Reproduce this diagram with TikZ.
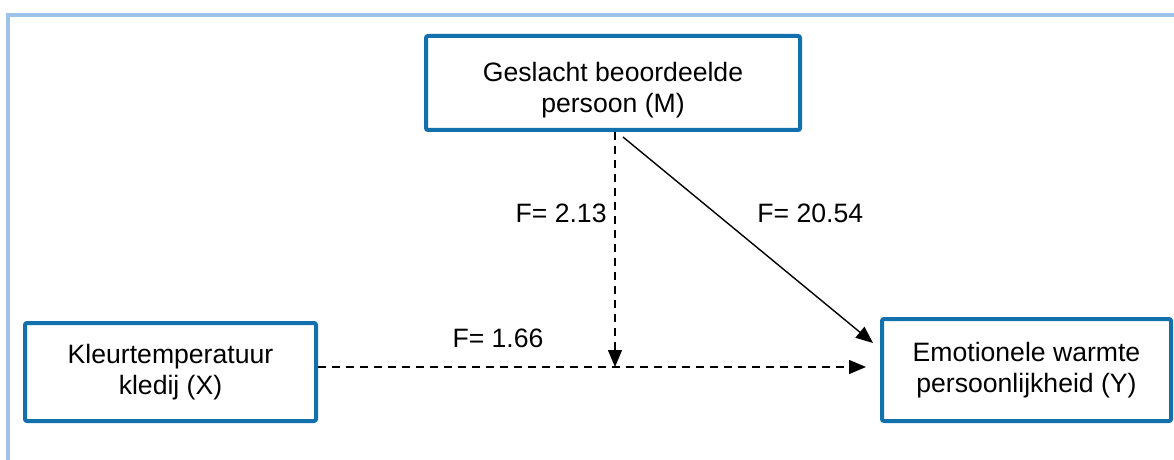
\documentclass[tikz,border=0pt]{standalone}
\usepackage{fontspec}
\setmainfont{Liberation Sans}
\usepackage{tikz}
\usetikzlibrary{arrows.meta, positioning, calc}
\definecolor{myblue}{RGB}{18,112,172}
\definecolor{myframe}{RGB}{157,195,235}
\definecolor{mydark}{RGB}{0,0,0}
\tikzset{
  varbox/.style={rectangle, draw=myblue, fill=white, line width=2pt,
    align=center, rounded corners=1pt, inner sep=0pt},
  dasharrow/.style={-{Triangle[length=8.5pt,width=7pt]}, dashed,
    dash pattern=on 4pt off 3pt, line width=0.7pt, color=mydark},
  arrow/.style={-{Triangle[length=8.5pt,width=7pt]}, line width=0.7pt, color=mydark},
  flabel/.style={inner sep=0pt}
}

\begin{document}
\begin{tikzpicture}[x=0.5pt, y=-0.5pt, every node/.style={font=\fontsize{13.3}{15.5}\selectfont}]
  \useasboundingbox (0,0) rectangle (1174,460);
  % Frame
  \draw[myframe, line width=2pt] (8,470) -- (8,15) -- (1185,15);

  % Variables
  \node[varbox, minimum width=187pt, minimum height=47pt, text height=32pt] (M) at (613,83)
    {Geslacht beoordeelde\\persoon (M)};
  \node[varbox, minimum width=145.5pt, minimum height=49pt] (X) at (170.5,372)
    {Kleurtemperatuur\\kledij (X)};
  \node[varbox, minimum width=144.5pt, minimum height=51pt] (Y) at (1026.5,370)
    {Emotionele warmte\\persoonlijkheid (Y)};

  % Meeting point
  \coordinate (mid) at (615,367);

  % Connections
  \draw[dasharrow, shorten >=7pt] (X.east |- mid) -- (Y.west |- mid);
  \draw[dasharrow] (M.south -| mid) -- (mid);
  \draw[arrow] ([xshift=5pt,yshift=-2.5pt]M.south) -- ([xshift=-3.5pt,yshift=-13pt]Y.north west);

  % Labels
  \node[flabel, anchor=east] (f_m) at (607,213) {F= 2.13};
  \node[flabel, anchor=west] (f_my) at (757,213) {F= 20.54};
  \node[flabel] (f_x) at (498,338) {F= 1.66};
\end{tikzpicture}
\end{document}
